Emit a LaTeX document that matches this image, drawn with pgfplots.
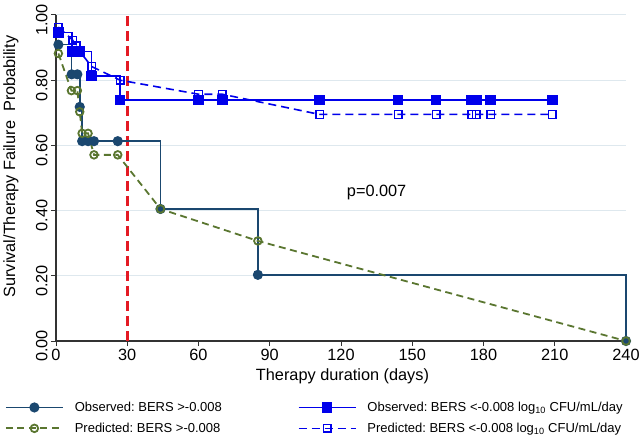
\documentclass[border=0pt]{standalone}
\usepackage{fontspec}
\setmainfont{Liberation Sans}
\usepackage{pgfplots}
\pgfplotsset{compat=1.18}

\definecolor{obsnavy}{RGB}{26,71,111}
\definecolor{predolive}{RGB}{90,118,48}
\definecolor{lowblue}{RGB}{0,0,235}
\definecolor{cutred}{RGB}{228,26,36}
\definecolor{gridgray}{RGB}{222,232,238}

\newcommand{\bigfont}{\fontsize{16.3bp}{19bp}\selectfont}
\newcommand{\legfont}{\fontsize{13bp}{15bp}\selectfont}

\begin{document}
\frenchspacing
\begin{tikzpicture}
\begin{axis}[
  at={(56bp,99bp)}, anchor=south west,
  scale only axis, width=570bp, height=326bp,
  xmin=0, xmax=240, ymin=0, ymax=1,
  clip=false,
  axis x line*=bottom, axis y line*=left,
  axis line style={-, draw=black!80, line width=1.1bp},
  xtick={0,30,60,90,120,150,180,210,240},
  ytick={0,0.2,0.4,0.6,0.8,1},
  tick align=outside, major tick length=5bp,
  tick style={black!80, line width=1bp},
  ymajorgrids, major grid style={gridgray, line width=1bp},
  /pgf/number format/assume math mode=true,
  yticklabel style={rotate=90, anchor=south, xshift=-5bp, font=\bigfont,
    /pgf/number format/.cd, fixed, fixed zerofill, precision=2},
  xticklabel style={font=\bigfont},
  xlabel={Therapy duration (days)},
  ylabel={Survival/Therapy Failure\ \ Probability},
  label style={font=\bigfont},
  xlabel style={at={(axis description cs:0.5026,-0.107)}, anchor=center},
  ylabel style={at={(axis description cs:-0.079,0.535)}, anchor=center},
  legend columns=2, transpose legend,
  legend style={draw=none, fill=none, inner sep=0pt, outer sep=0pt,
    font=\legfont, row sep=6bp,
    at={(axis description cs:-0.0895,-0.181)}, anchor=north west,
    cells={anchor=west},
    /tikz/every odd column/.append style={column sep=9bp},
    /tikz/every even column/.append style={column sep=74bp}},
  legend image code/.code={
    \draw[mark repeat=2,mark phase=2,#1]
      plot coordinates {(0bp,0bp) (28.5bp,0bp) (57bp,0bp)};},
]

% 30-day reference line
\addplot[cutred, line width=2.8bp, dash pattern=on 10bp off 5bp, forget plot]
  coordinates {(30,0) (30,1)};

% BERS > -0.008, observed (Kaplan-Meier steps)
\addplot[const plot, obsnavy, line width=1.5bp,
  mark=*, mark size=4.3bp, mark options={solid, fill=obsnavy}]
  coordinates {
  (1,0.909) (6.6,0.818) (9,0.818) (10,0.718) (11,0.613) (13.5,0.613)
  (16,0.613) (26,0.613) (44,0.405) (85,0.203) (240,0)};
\addlegendentry{Observed: BERS >-0.008}

% BERS > -0.008, predicted
\addplot[predolive, line width=1.8bp, dash pattern=on 7bp off 4.5bp,
  mark=o, mark size=3.8bp, mark options={solid, line width=1.8bp}]
  coordinates {
  (1,0.882) (6.5,0.768) (9,0.768) (10,0.703) (11,0.637) (13.5,0.637)
  (16,0.571) (26,0.571) (44,0.405) (85,0.307) (240,0)};
\addlegendentry{Predicted: BERS >-0.008}

% BERS < -0.008, observed (Kaplan-Meier steps)
\addplot[const plot, lowblue, line width=1.5bp,
  mark=square*, mark size=4.5bp, mark options={solid, fill=lowblue}]
  coordinates {
  (1,0.947) (6.7,0.888) (8.5,0.888) (10,0.888) (15,0.813) (27,0.739)
  (60,0.739) (70,0.739) (111,0.739) (144,0.739) (160,0.739) (175,0.739)
  (177,0.739) (183,0.739) (209,0.739)};
\addlegendentry{Observed: BERS <-0.008 log\textsubscript{10} CFU/mL/day}

% BERS < -0.008, predicted
\addplot[lowblue, line width=1.6bp, dash pattern=on 8bp off 5bp,
  mark=square, mark size=3.8bp, mark options={solid, line width=1.4bp}]
  coordinates {
  (1,0.963) (7,0.923) (8.5,0.905) (10,0.888) (15,0.842) (27,0.800)
  (60,0.757) (70,0.757) (111,0.695) (144,0.695) (160,0.695) (175,0.695)
  (177,0.695) (183,0.695) (209,0.695)};
\addlegendentry{Predicted: BERS <-0.008 log\textsubscript{10} CFU/mL/day}

\node[font=\bigfont] at (axis cs:135,0.455) {p=0.007};
\end{axis}
\pgfresetboundingbox
\useasboundingbox (0,0) rectangle (640bp,440bp);
\end{tikzpicture}
\end{document}
